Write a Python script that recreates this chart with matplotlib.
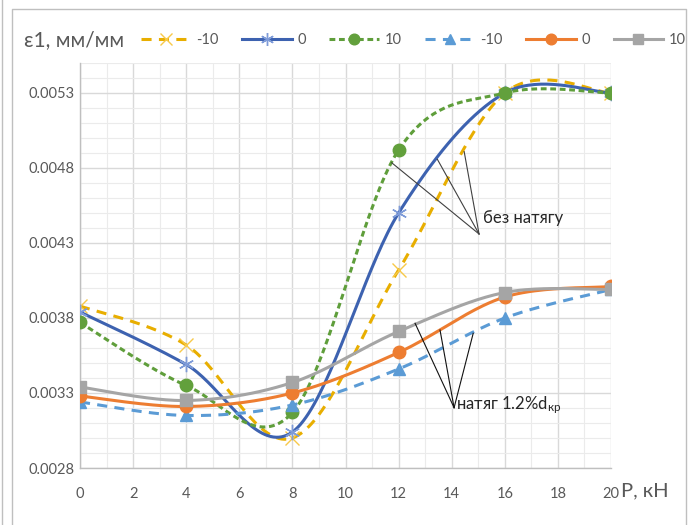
import numpy as np
import matplotlib
matplotlib.use("Agg")
from matplotlib import pyplot as plt
from matplotlib.lines import Line2D
from matplotlib.ticker import MultipleLocator

plt.rcParams['font.family'] = ['Lato', 'DejaVu Sans']
plt.rcParams['mathtext.default'] = 'regular'

p_kn = [0, 4, 8, 12, 16, 20]

# без натягу
eps_free_m10 = [0.00388, 0.00362, 0.00300, 0.00412, 0.00530, 0.00530]
eps_free_0 = [0.00384, 0.00349, 0.00304, 0.00450, 0.00530, 0.00530]
eps_free_10 = [0.00377, 0.00335, 0.00317, 0.00492, 0.00530, 0.00530]
# натяг 1.2%dкр
eps_tens_m10 = [0.00324, 0.00315, 0.00322, 0.00346, 0.00380, 0.00399]
eps_tens_0 = [0.00328, 0.00321, 0.00330, 0.00357, 0.00394, 0.00401]
eps_tens_10 = [0.00334, 0.00325, 0.00337, 0.00371, 0.00397, 0.00399]

labels = ['-10', '0', '10', '-10', '0', '10']
y_ticks = [0.0028, 0.0033, 0.0038, 0.0043, 0.0048, 0.0053]

GRAY_TXT = "#595959"


def excel_smooth(x, y, n=40):
    """Bezier smoothing like Excel 'smoothed line' (Catmull-Rom control points)."""
    pts = np.column_stack([x, y]).astype(float)
    pts = np.vstack([pts[0], pts, pts[-1]])
    t = np.linspace(0, 1, n)[:, None]
    out = []
    for i in range(1, len(pts) - 2):
        p0, p1, p2, p3 = pts[i - 1], pts[i], pts[i + 1], pts[i + 2]
        c1 = p1 + (p2 - p0) / 6
        c2 = p2 - (p3 - p1) / 6
        seg = ((1 - t) ** 3) * p1 + 3 * ((1 - t) ** 2) * t * c1 + 3 * (1 - t) * t ** 2 * c2 + t ** 3 * p2
        out.append(seg if i == 1 else seg[1:])
    out = np.vstack(out)
    return out[:, 0], out[:, 1]


fig = plt.figure(figsize=(6.91, 5.25), dpi=100)
ax = fig.add_axes([80 / 691, 57 / 525, 531 / 691, 405 / 525])

styles = [
    dict(data=eps_free_m10, color="#E8AE00", ls=(0, (3.3, 2.4)), marker="x", ms=10, mfc="#F7D36A", mec="#F7C94A", mew=1.0),
    dict(data=eps_free_0, color="#3D62B0", ls="-", marker=(6, 2, 0), ms=11, mfc="#7E9BD8", mec="#7E9BD8", mew=1.0),
    dict(data=eps_free_10, color="#5F9E3B", ls=(0, (1.9, 1.2)), marker="o", ms=9, mfc="#62A03C", mec="#62A03C", mew=1.0),
    dict(data=eps_tens_m10, color="#5B9BD5", ls=(0, (3.3, 2.4)), marker="^", ms=8, mfc="#5B9BD5", mec="#5B9BD5", mew=1.0),
    dict(data=eps_tens_0, color="#ED7D31", ls="-", marker="o", ms=9, mfc="#ED7D31", mec="#ED7D31", mew=1.0),
    dict(data=eps_tens_10, color="#A5A5A5", ls="-", marker="s", ms=8, mfc="#A5A5A5", mec="#A5A5A5", mew=1.0),
]

handles = []
for k, st in enumerate(styles):
    sx, sy = excel_smooth(p_kn, st["data"])
    ax.plot(sx, sy, color=st["color"], ls=st["ls"], lw=2.2, zorder=3 + k, solid_capstyle="round")
    ax.plot(p_kn, st["data"], ls="none", marker=st["marker"], ms=st["ms"], mfc=st["mfc"],
            mec=st["mec"], mew=st["mew"], zorder=3 + k)
    handles.append(Line2D([], [], color=st["color"], ls=st["ls"], lw=2.2, marker=st["marker"],
                          ms=st["ms"] * 0.85, mfc=st["mfc"], mec=st["mec"], mew=st["mew"]))

ax.set_xlim(0, 20)
ax.set_ylim(0.0028, 0.0055)
ax.xaxis.set_major_locator(MultipleLocator(2))
ax.xaxis.set_minor_locator(MultipleLocator(1))
ax.set_yticks(y_ticks)
ax.set_yticklabels([f"{v:.4f}" for v in y_ticks])
ax.yaxis.set_minor_locator(MultipleLocator(0.0001))
ax.grid(which="major", color="#D9D9D9", lw=1.0, zorder=0)
ax.grid(which="minor", color="#EBEBEB", lw=0.8, zorder=0)
ax.set_axisbelow(True)
ax.tick_params(which="both", length=0, labelsize=10.5, labelcolor=GRAY_TXT)
ax.tick_params(axis="x", pad=14)
ax.tick_params(axis="y", pad=4)
for side in ["top", "right"]:
    ax.spines[side].set_visible(False)
for side in ["left", "bottom"]:
    ax.spines[side].set_color("#BFBFBF")
    ax.spines[side].set_linewidth(1.0)

# annotations
ax.text(15.18, 0.004467, "без натягу", fontsize=12, color="#262626", va="center", ha="left")
for ex, ey in [(11.74, 0.004835), (13.46, 0.004858), (14.47, 0.004909)]:
    ax.plot([15.03, ex], [0.00436, ey], color="#404040", lw=0.8, zorder=20)

ax.text(14.15, 0.00322, "натяг 1.2%d$_{кр}$", fontsize=12, color="#262626", va="center", ha="left")
for ex, ey in [(12.62, 0.003765), (13.56, 0.00372), (14.81, 0.003698)]:
    ax.plot([14.09, ex], [0.003202, ey], color="#111111", lw=0.8, zorder=20)

# axis titles
fig.text(24 / 691, 1 - 40 / 525, "ε1, мм/мм", fontsize=15, color=GRAY_TXT, va="center", ha="left")
fig.text(621 / 691, 1 - 491 / 525, "P, кН", fontsize=14.5, color=GRAY_TXT, va="center", ha="left")

fig.legend(handles, labels, ncol=6, loc="center left", bbox_to_anchor=(141 / 691, 1 - 40 / 525),
           frameon=False, fontsize=10.5, labelcolor=GRAY_TXT, handlelength=3.4, handletextpad=0.4,
           columnspacing=1.6, borderpad=0, borderaxespad=0, numpoints=1)

# chart area border
fig.add_artist(Line2D([12 / 691, 12 / 691, 686 / 691, 686 / 691], [0, 1 - 9 / 525, 1 - 9 / 525, 0],
                      color="#BFBFBF", lw=1.0))
fig.add_artist(Line2D([2 / 691, 2 / 691], [0, 1], color="#BFBFBF", lw=1.0))

fig.savefig("out.png", dpi=100)
